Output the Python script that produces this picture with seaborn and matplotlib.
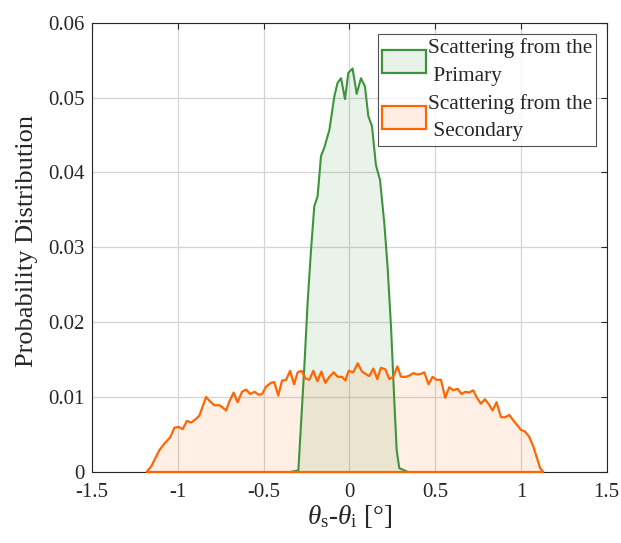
import numpy as np
import matplotlib
matplotlib.use("Agg")
import matplotlib.pyplot as plt
import seaborn as sns
import pandas as pd
from matplotlib.patches import Patch

# ---------------- data ----------------
prim_x = [-0.340, -0.297, -0.262, -0.243, -0.223, -0.204, -0.185, -0.165, -0.146,
          -0.116, -0.087, -0.068, -0.048, -0.025, -0.006, 0.019, 0.043, 0.068,
          0.091, 0.111, 0.132, 0.155, 0.179, 0.204, 0.223, 0.243, 0.262, 0.276,
          0.291, 0.340]
prim_y = [0.0, 0.0002, 0.0141, 0.0226, 0.0297, 0.0355, 0.0368, 0.0422, 0.0433,
          0.0457, 0.0502, 0.0520, 0.0526, 0.0498, 0.0533, 0.0539, 0.0505, 0.0526,
          0.0515, 0.0475, 0.0462, 0.0410, 0.0390, 0.0332, 0.0274, 0.0194, 0.0096,
          0.0029, 0.0005, 0.0]

sec_x = [-1.181, -1.155, -1.107, -1.077, -1.044, -1.019, -0.994, -0.971, -0.947,
         -0.922, -0.897, -0.874, -0.835, -0.811, -0.786, -0.757, -0.738, -0.718,
         -0.699, -0.674, -0.651, -0.625, -0.602, -0.577, -0.553, -0.528, -0.508,
         -0.485, -0.456, -0.437, -0.414, -0.392, -0.369, -0.345, -0.322, -0.301,
         -0.278, -0.256, -0.233, -0.210, -0.186, -0.163, -0.140, -0.116, -0.091,
         -0.068, -0.043, -0.023, -0.004, 0.023, 0.049, 0.074, 0.101, 0.116, 0.140,
         0.163, 0.184, 0.210, 0.233, 0.256, 0.280, 0.301, 0.330, 0.353, 0.373,
         0.398, 0.417, 0.437, 0.462, 0.485, 0.508, 0.534, 0.559, 0.582, 0.606,
         0.631, 0.654, 0.676, 0.699, 0.722, 0.744, 0.767, 0.790, 0.811, 0.835,
         0.858, 0.884, 0.907, 0.932, 0.955, 0.980, 1.000, 1.023, 1.048, 1.072,
         1.097, 1.112, 1.130]
sec_y = [0.0, 0.0007, 0.0029, 0.0038, 0.0046, 0.0059, 0.0060, 0.0057, 0.0068,
         0.0066, 0.0070, 0.0075, 0.0100, 0.0094, 0.0089, 0.0089, 0.0086, 0.0082,
         0.0094, 0.0106, 0.0093, 0.0107, 0.0110, 0.0104, 0.0107, 0.0103, 0.0104,
         0.0114, 0.0119, 0.0120, 0.0102, 0.0122, 0.0123, 0.0135, 0.0117, 0.0133,
         0.0135, 0.0125, 0.0123, 0.0135, 0.0121, 0.0134, 0.0119, 0.0127, 0.0133,
         0.0127, 0.0127, 0.0122, 0.0135, 0.0133, 0.0145, 0.0134, 0.0130, 0.0128,
         0.0138, 0.0124, 0.0139, 0.0137, 0.0124, 0.0127, 0.0141, 0.0127, 0.0127,
         0.0129, 0.0132, 0.0130, 0.0131, 0.0133, 0.0117, 0.0127, 0.0123, 0.0123,
         0.0099, 0.0113, 0.0109, 0.0111, 0.0104, 0.0107, 0.0106, 0.0109, 0.0099,
         0.0091, 0.0097, 0.0091, 0.0082, 0.0093, 0.0073, 0.0073, 0.0076, 0.0069,
         0.0062, 0.0056, 0.0054, 0.0047, 0.0034, 0.0016, 0.0005, 0.0]

labels = ["Scattering from the\n Primary", "Scattering from the\n Secondary"]
x_ticks = [-1.5, -1, -0.5, 0, 0.5, 1, 1.5]
x_ticklabels = ["-1.5", "-1", "-0.5", "0", "0.5", "1", "1.5"]
y_ticks = [0, 0.01, 0.02, 0.03, 0.04, 0.05, 0.06]
y_ticklabels = ["0", "0.01", "0.02", "0.03", "0.04", "0.05", "0.06"]

# ---------------- style ----------------
sns.set_style("white")
plt.rcParams["font.family"] = ["Liberation Serif", "DejaVu Serif"]
plt.rcParams["mathtext.fontset"] = "custom"
plt.rcParams["mathtext.rm"] = "Liberation Serif"
plt.rcParams["mathtext.it"] = "Liberation Serif:italic"

green = (0.24, 0.58, 0.24)
orange = (1.0, 0.40, 0.0)
txt = "#262626"

fig = plt.figure(figsize=(6.21, 5.43), dpi=100)
ax = fig.add_axes([0.148, 0.131, 0.829, 0.827])

df_p = pd.DataFrame({"x": prim_x, "y": prim_y})
df_s = pd.DataFrame({"x": sec_x, "y": sec_y})

ax.fill_between(df_p["x"], df_p["y"], 0, facecolor=green, alpha=0.11, linewidth=0, zorder=2)
ax.fill_between(df_s["x"], df_s["y"], 0, facecolor=orange, alpha=0.10, linewidth=0, zorder=2)
sns.lineplot(data=df_p, x="x", y="y", ax=ax, color=green, linewidth=1.5, sort=False, zorder=3)
sns.lineplot(data=df_s, x="x", y="y", ax=ax, color=orange, linewidth=1.6, sort=False, zorder=3)
ax.plot([sec_x[0], sec_x[-1]], [0, 0], color=orange, linewidth=1.6, zorder=3, clip_on=False)

ax.set_xlim(-1.5, 1.5)
ax.set_ylim(0, 0.06)
ax.set_xticks(x_ticks)
ax.set_xticklabels(x_ticklabels)
ax.set_yticks(y_ticks)
ax.set_yticklabels(y_ticklabels)
ax.grid(True, color="#d4d4d4", linewidth=0.9)
ax.set_axisbelow(True)
for s in ax.spines.values():
    s.set_visible(True)
    s.set_color(txt)
    s.set_linewidth(0.8)
ax.tick_params(direction="in", length=4, width=0.8, top=True, right=True,
               labelsize=15, colors=txt, pad=5)
ax.tick_params(axis="x", pad=8)

ax.set_xlabel(r"$\theta_{\rm s}$-$\theta_{\rm i}$ [°]", fontsize=19.5, color=txt, labelpad=1)
ax.set_ylabel("Probability Distribution", fontsize=19, color=txt)
ax.yaxis.set_label_coords(-0.104, 0.515)

handles = [Patch(facecolor=(0.91, 0.95, 0.91), edgecolor=green, linewidth=1.6),
           Patch(facecolor=(1.0, 0.93, 0.89), edgecolor=orange, linewidth=1.6)]
leg = ax.legend(handles, labels, loc="upper right", fontsize=15.3, frameon=True,
                fancybox=False, edgecolor=txt, handlelength=2.05, handleheight=1.25,
                handletextpad=0.1, borderpad=0.2, labelspacing=0.38,
                bbox_to_anchor=(0.98, 0.976), borderaxespad=0)
for t in leg.get_texts():
    t.set_linespacing(1.63)
leg.get_frame().set_linewidth(0.8)

fig.savefig("out.png", dpi=100)
